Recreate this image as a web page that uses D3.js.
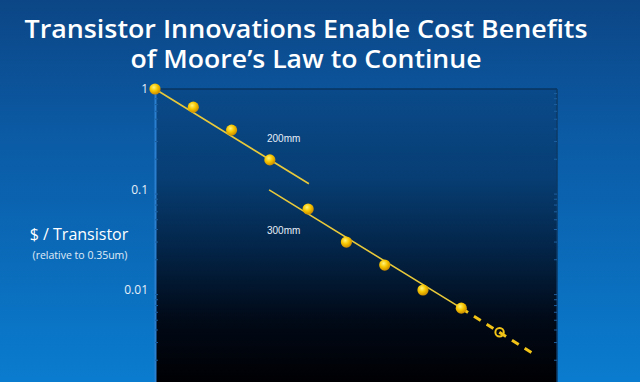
<!DOCTYPE html>
<html><head><meta charset="utf-8">
<script src="https://cdn.jsdelivr.net/npm/d3@7"></script>
<style>html,body{margin:0;padding:0;background:#0b5aa6;overflow:hidden}</style>
</head><body>
<svg id="c" width="640" height="382"></svg>
<script>
// ---- data ----
const titleLines = ["Transistor Innovations Enable Cost Benefits", "of Moore\u2019s Law to Continue"];
const yTicks = [1, 0.1, 0.01, 0.001];
const yTickLabels = ["1", "0.1", "0.01", "0.001"];
const series200Index = [0, 1, 2, 3];
const series200Values = [1, 0.66, 0.39, 0.197];
const series300Index = [4, 5, 6, 7, 8];
const series300Values = [0.064, 0.030, 0.0177, 0.0100, 0.0066];
const projectedIndex = [9];
const projectedValues = [0.0038];
const fit200 = [[0, 1], [4.02, 0.114]];
const fit300 = [[2.98, 0.099], [8, 0.0066]];
const fitProjected = [[8, 0.0066], [9.85, 0.00236]];
const seriesLabels = ["200mm", "300mm"];

const W = 640, H = 382;
const svg = d3.select("#c");
const defs = svg.append("defs");

const bg = defs.append("linearGradient").attr("id","bg").attr("x1",0).attr("y1",0).attr("x2",0).attr("y2",1);
bg.append("stop").attr("offset",0).attr("stop-color","#0c4686");
bg.append("stop").attr("offset",0.35).attr("stop-color","#0b5aa4");
bg.append("stop").attr("offset",1).attr("stop-color","#0a7ccf");

const pg = defs.append("linearGradient").attr("id","pg").attr("gradientUnits","userSpaceOnUse")
  .attr("x1",0).attr("y1",89).attr("x2",0).attr("y2",382);
pg.append("stop").attr("offset",0).attr("stop-color","#0a4a8a");
pg.append("stop").attr("offset",0.3).attr("stop-color","#073e74");
pg.append("stop").attr("offset",0.55).attr("stop-color","#032447");
pg.append("stop").attr("offset",0.78).attr("stop-color","#010a18");
pg.append("stop").attr("offset",1).attr("stop-color","#000003");

const mg = defs.append("radialGradient").attr("id","mg").attr("cx","40%").attr("cy","35%").attr("r","65%");
mg.append("stop").attr("offset",0).attr("stop-color","#fff27a");
mg.append("stop").attr("offset",0.5).attr("stop-color","#f7c600");
mg.append("stop").attr("offset",1).attr("stop-color","#c98a00");

svg.append("rect").attr("width",W).attr("height",H).attr("fill","url(#bg)");

// title
const titleFont = "'Open Sans','Noto Sans',sans-serif";
svg.selectAll("text.title").data(titleLines).join("text").attr("class","title")
  .attr("x",306).attr("y",(d,i)=>38+i*30)
  .attr("text-anchor","middle")
  .attr("fill","#ffffff").attr("font-family",titleFont).attr("font-weight",600)
  .attr("font-size",26)
  .attr("textLength",(d,i)=>i===0?563:351).attr("lengthAdjust","spacingAndGlyphs")
  .text(d=>d);

// scales
const pLeft = 155, pRight = 557, pTop = 89;
const x = d3.scaleLinear().domain([0, 10.5]).range([pLeft, pRight]);
const y = d3.scaleLog().domain([0.001, 1]).range([390.5, pTop]);

// plot area
svg.append("rect").attr("x",pLeft).attr("y",pTop).attr("width",pRight-pLeft).attr("height",H-pTop+10)
  .attr("fill","url(#pg)");
svg.append("line").attr("x1",pLeft).attr("x2",pRight).attr("y1",pTop).attr("y2",pTop)
  .attr("stroke","#08345f").attr("stroke-width",1.5);
svg.append("line").attr("x1",pRight).attr("x2",pRight).attr("y1",pTop).attr("y2",H)
  .attr("stroke","#0c3a66").attr("stroke-width",1.5);

// axes
const yAxisL = d3.axisLeft(y).tickValues(yTicks).tickSize(0).tickPadding(7)
  .tickFormat(d=>yTickLabels[yTicks.indexOf(d)]);
const gL = svg.append("g").attr("transform",`translate(${pLeft},0)`).call(yAxisL);
gL.select(".domain").attr("stroke","#2a7fcf").attr("stroke-width",2);
gL.selectAll("text").attr("fill","#e6eef8").attr("font-family","'Open Sans',sans-serif").attr("font-size",12);

// minor ticks
const minor = [];
[0.001,0.01,0.1].forEach(b=>{for(let k=2;k<=9;k++) minor.push(b*k);});
svg.append("g").selectAll("line").data(minor).join("line")
  .attr("x1",pLeft).attr("x2",pLeft+3).attr("y1",d=>y(d)).attr("y2",d=>y(d))
  .attr("stroke","#1d5f9e").attr("stroke-width",1);
svg.append("g").selectAll("line").data(minor).join("line")
  .attr("x1",pRight-3).attr("x2",pRight).attr("y1",d=>y(d)).attr("y2",d=>y(d))
  .attr("stroke","#1d5f9e").attr("stroke-width",1);

// axis title
svg.append("text").attr("x",79).attr("y",240).attr("text-anchor","middle")
  .attr("fill","#ffffff").attr("font-family","'Open Sans',sans-serif").attr("font-size",16)
  .text("$ / Transistor");
svg.append("text").attr("x",80).attr("y",259).attr("text-anchor","middle")
  .attr("fill","#e0ebf7").attr("font-family","'Open Sans',sans-serif").attr("font-size",10.5)
  .text("(relative to 0.35um)");

// fit lines
const line = d3.line().x(d=>x(d[0])).y(d=>y(d[1]));
svg.append("path").attr("d",line(fit200)).attr("fill","none").attr("stroke","#e9c93a").attr("stroke-width",1.6);
svg.append("path").attr("d",line(fit300)).attr("fill","none").attr("stroke","#e9c93a").attr("stroke-width",1.6);
svg.append("path").attr("d",line(fitProjected)).attr("fill","none").attr("stroke","#f2c417")
  .attr("stroke-width",3).attr("stroke-dasharray","8,7");

// markers
const pts = series200Index.map((d,i)=>[d,series200Values[i]])
  .concat(series300Index.map((d,i)=>[d,series300Values[i]]));
svg.append("g").selectAll("circle").data(pts).join("circle")
  .attr("cx",d=>x(d[0])).attr("cy",d=>y(d[1])).attr("r",5.6).attr("fill","url(#mg)");
svg.append("g").selectAll("circle").data(projectedIndex.map((d,i)=>[d,projectedValues[i]])).join("circle")
  .attr("cx",d=>x(d[0])).attr("cy",d=>y(d[1])).attr("r",4.2)
  .attr("fill","none").attr("stroke","#f2c417").attr("stroke-width",2);

// series labels
svg.append("text").attr("x",267).attr("y",142).attr("fill","#e6eef8")
  .attr("font-family","'Liberation Sans',Arial,sans-serif").attr("font-size",10).text(seriesLabels[0]);
svg.append("text").attr("x",267).attr("y",234).attr("fill","#e6eef8")
  .attr("font-family","'Liberation Sans',Arial,sans-serif").attr("font-size",10).text(seriesLabels[1]);
</script>
</body></html>
